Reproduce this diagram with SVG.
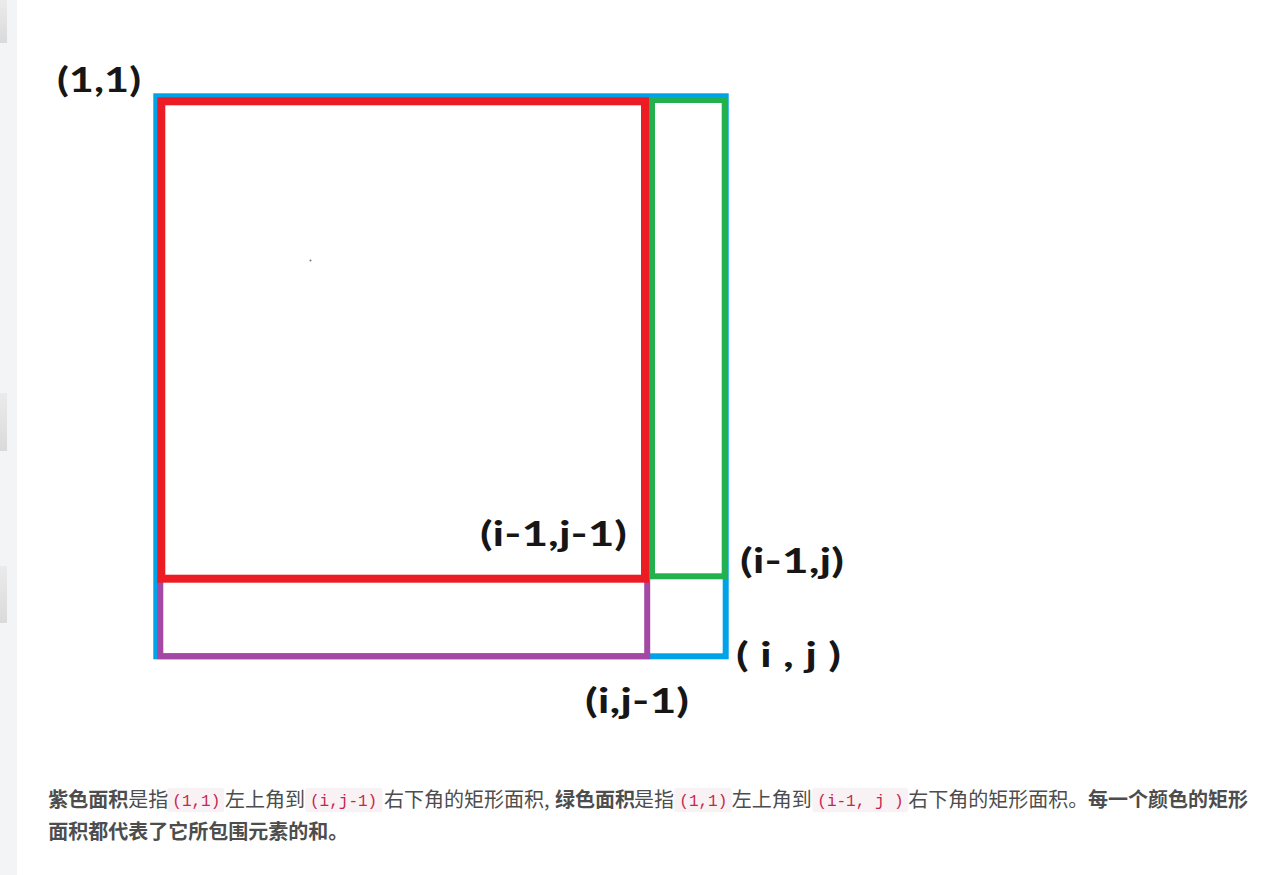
<svg xmlns="http://www.w3.org/2000/svg" width="1274" height="875" viewBox="0 0 1274 875">
<style>
.lbl{font-family:Lato,"Open Sans","Liberation Sans",sans-serif;font-weight:700;font-size:34px;fill:#161616}
.p{font-family:"Noto Sans CJK SC","Noto Sans",sans-serif;font-size:20px;fill:#4d4d4d}
.b{font-weight:700}
.code{font-family:"Liberation Mono","DejaVu Sans Mono",monospace;font-size:16px;fill:#c7254e}
.cbox{fill:#f9f2f4}
.r{fill:none}
</style>
<defs>
<linearGradient id="gb" x1="0" y1="0" x2="0" y2="1">
<stop offset="0" stop-color="#ebebeb"/>
<stop offset="1" stop-color="#dadada"/>
</linearGradient>
</defs>
<rect width="1274" height="875" fill="#ffffff"/>
<g id="sidebar">
<rect x="0" y="0" width="17" height="875" fill="#f3f4f6"/>
<rect x="0" y="0" width="7" height="43" fill="url(#gb)"/>
<rect x="0" y="393" width="7" height="58" fill="url(#gb)"/>
<rect x="0" y="566" width="7" height="57" fill="url(#gb)"/>
</g>
<g id="rects">
<rect id="blue" class="r" x="156.3" y="96.3" width="569.4" height="560" stroke="#00a2e8" stroke-width="6"/>
<rect id="purple" class="r" x="160.3" y="579" width="486.9" height="77.2" stroke="#a349a4" stroke-width="6"/>
<rect id="green" class="r" x="652" y="100" width="72.7" height="476.3" stroke="#22b14c" stroke-width="6"/>
<rect id="red" class="r" x="161.3" y="101.3" width="483.7" height="477.4" stroke="#ed1c24" stroke-width="8"/>
<circle cx="310.5" cy="260.5" r="1" fill="#777"/>
</g>
<g id="labels">
<text id="l11" class="lbl" x="57" y="92" textLength="84" lengthAdjust="spacingAndGlyphs">(1,1)</text>
<text id="lim1jm1" class="lbl" x="480" y="545.5" textLength="147" lengthAdjust="spacingAndGlyphs">(i-1,j-1)</text>
<text id="lim1j" class="lbl" x="740" y="573" textLength="104" lengthAdjust="spacingAndGlyphs">(i-1,j)</text>
<text id="lij" class="lbl" x="736" y="666.5" textLength="105" lengthAdjust="spacingAndGlyphs">( i , j )</text>
<text id="lijm1" class="lbl" x="585" y="713" textLength="104" lengthAdjust="spacingAndGlyphs">(i,j-1)</text>
</g>
<g id="caption">
<rect class="cbox" x="167.3" y="787.7" width="57" height="24.6" rx="3"/>
<rect class="cbox" x="305" y="787.7" width="77.5" height="24.6" rx="3"/>
<rect class="cbox" x="674.3" y="787.7" width="57.4" height="24.6" rx="3"/>
<rect class="cbox" x="812.3" y="787.7" width="96" height="24.6" rx="3"/>
<text class="code" y="806"><tspan x="172.3">(1,1)</tspan><tspan x="310">(i,j-1)</tspan><tspan x="679.3">(1,1)</tspan><tspan x="817.3">(i-1, j )</tspan></text>
<text class="p" y="806.5"><tspan x="48.3" class="b">紫色面积</tspan><tspan x="128.3">是指</tspan><tspan x="225">左上角到</tspan><tspan x="384">右下角的矩形面积, </tspan><tspan x="555" class="b">绿色面积</tspan><tspan x="634">是指</tspan><tspan x="731.7">左上角到</tspan><tspan x="908.3">右下角的矩形面积。</tspan><tspan x="1088" class="b">每一个颜色的矩形</tspan></text>
<text class="p b" x="48.3" y="838.5">面积都代表了它所包围元素的和。</text>
</g>
</svg>
